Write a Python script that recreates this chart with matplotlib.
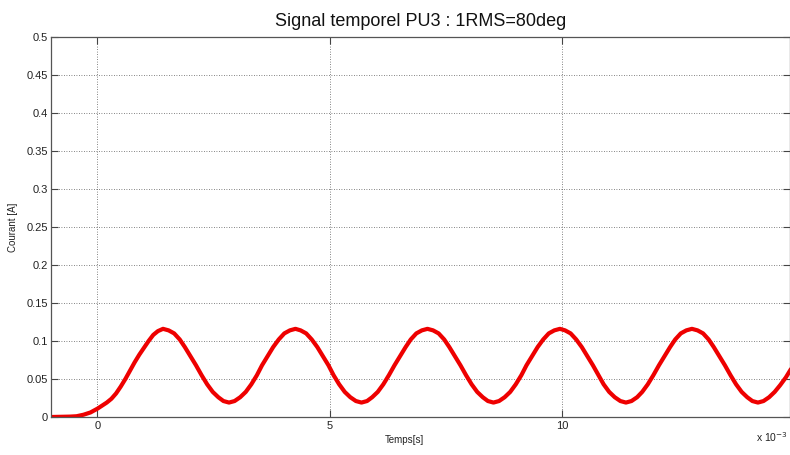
import matplotlib
matplotlib.use('Agg')
import matplotlib.pyplot as plt

# time axis in ms (axis shows x 10^-3 s), current in A
T_START = [-1.0, -0.6, -0.45, -0.3, -0.15, 0.0, 0.1, 0.2, 0.3, 0.4, 0.5, 0.6, 0.7, 0.8, 0.9, 1.0, 1.1, 1.2, 1.3, 1.41]
I_START = [0.0, 0.0005, 0.001, 0.003, 0.006, 0.011, 0.015, 0.019, 0.024, 0.031, 0.040, 0.050, 0.061, 0.072, 0.082,
           0.091, 0.100, 0.108, 0.113, 0.116]

# one period, peak to peak
I_PERIOD = [0.114, 0.110, 0.102, 0.092, 0.080, 0.068, 0.055, 0.043, 0.033, 0.026, 0.021, 0.019,
            0.021, 0.026, 0.033, 0.043, 0.055, 0.068, 0.080, 0.092, 0.102, 0.110, 0.114, 0.116]

T_CYCLE1 = [1.53, 1.65, 1.77, 1.88, 2.00, 2.12, 2.24, 2.36, 2.48, 2.60, 2.71, 2.83,
            2.95, 3.07, 3.19, 3.31, 3.43, 3.54, 3.66, 3.78, 3.90, 4.02, 4.14, 4.26]
T_CYCLE2 = [4.37, 4.49, 4.61, 4.73, 4.85, 4.97, 5.08, 5.20, 5.32, 5.44, 5.56, 5.68,
            5.80, 5.91, 6.03, 6.15, 6.27, 6.39, 6.51, 6.63, 6.74, 6.86, 6.98, 7.10]
T_CYCLE3 = [7.22, 7.34, 7.46, 7.57, 7.69, 7.81, 7.93, 8.05, 8.17, 8.29, 8.40, 8.52,
            8.64, 8.76, 8.88, 9.00, 9.12, 9.23, 9.35, 9.47, 9.59, 9.71, 9.83, 9.95]
T_CYCLE4 = [10.06, 10.18, 10.30, 10.42, 10.54, 10.66, 10.78, 10.89, 11.01, 11.13, 11.25, 11.37,
            11.49, 11.61, 11.72, 11.84, 11.96, 12.08, 12.20, 12.32, 12.43, 12.55, 12.67, 12.79]
T_END = [12.91, 13.03, 13.15, 13.26, 13.38, 13.50, 13.62, 13.74, 13.86, 13.98, 14.09, 14.21,
         14.33, 14.45, 14.57, 14.69, 14.81, 14.92, 15.04]
I_END = [0.114, 0.110, 0.102, 0.092, 0.080, 0.068, 0.055, 0.043, 0.033, 0.026, 0.021, 0.019,
         0.021, 0.026, 0.033, 0.042, 0.052, 0.063, 0.075]

X_TICKS = [0, 5, 10]
Y_TICKS = [0, 0.05, 0.1, 0.15, 0.2, 0.25, 0.3, 0.35, 0.4, 0.45, 0.5]
Y_LABELS = ['0', '0.05', '0.1', '0.15', '0.2', '0.25', '0.3', '0.35', '0.4', '0.45', '0.5']

plt.rcParams['font.family'] = ['Liberation Sans', 'DejaVu Sans']

fig = plt.figure(figsize=(7.9, 4.55), dpi=100)
ax = fig.add_axes([51/790, 1 - 417/455, 739/790, 380/455])

t = T_START + T_CYCLE1 + T_CYCLE2 + T_CYCLE3 + T_CYCLE4 + T_END
i = I_START + I_PERIOD * 4 + I_END
ax.plot(t, i, color='#ee0000', linewidth=3.0, solid_joinstyle='round', solid_capstyle='round')

ax.set_xlim(-1.0, 14.9)
ax.set_ylim(0, 0.5)
ax.set_xticks(X_TICKS)
ax.set_xticklabels([str(x) for x in X_TICKS])
ax.set_yticks(Y_TICKS)
ax.set_yticklabels(Y_LABELS)

ax.grid(True, linestyle=(0, (1, 2)), color='#333333', linewidth=0.6, alpha=0.8)
ax.tick_params(direction='in', length=5, width=0.8, color='#444444',
               labelcolor='#222222', labelsize=8, top=True, right=True)
ax.tick_params(axis='y', pad=2)
ax.tick_params(axis='x', pad=3)
for sp in ax.spines.values():
    sp.set_color('#555555')
    sp.set_linewidth(0.9)

ax.set_title('Signal temporel PU3 : 1RMS=80deg', fontsize=13, color='#111111', pad=8)
ax.set_ylabel('Courant [A]', fontsize=7, color='#222222')
ax.yaxis.set_label_coords(-(51 - 18) / 739, 0.5)
fig.text(404/790, 1 - 440/455, 'Temps[s]', fontsize=7, color='#222222', ha='center', va='center')
fig.text(788/790, 1 - 437/455, 'x 10$^{-3}$', fontsize=7.5, color='#222222', ha='right', va='center')

fig.savefig('out.png', dpi=100)
